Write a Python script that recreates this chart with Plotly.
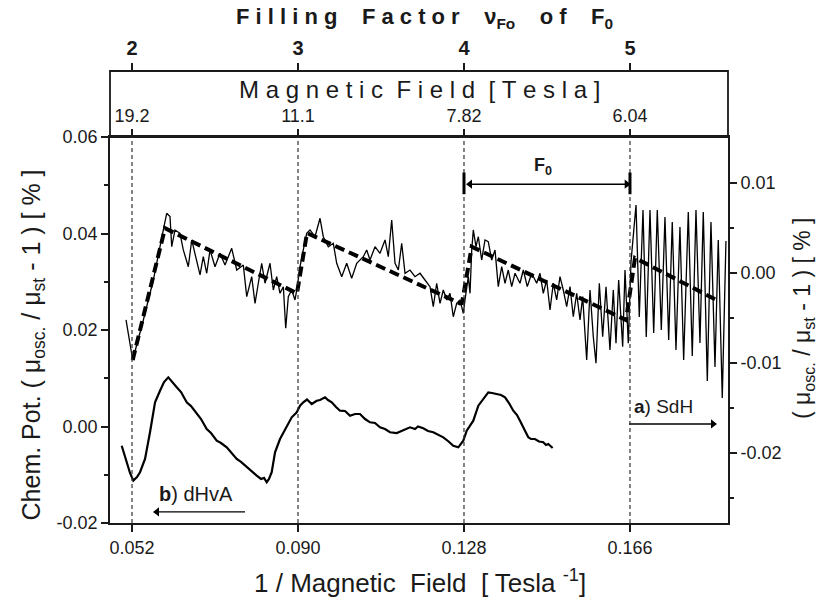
import plotly.graph_objects as go

# ---------------- data ----------------
# a) SdH trace (right axis)
sdh_x = [0.05063, 0.05216, 0.05459, 0.05688, 0.05917, 0.05994, 0.06070, 0.06109, 0.06184, 0.06299,
         0.06374, 0.06489, 0.06567, 0.06681, 0.06757, 0.06832, 0.06910, 0.06986, 0.07100, 0.07214,
         0.07329, 0.07482, 0.07597, 0.07748, 0.07826, 0.07940, 0.08016, 0.08091, 0.08169, 0.08245,
         0.08359, 0.08435, 0.08512, 0.08588, 0.08664, 0.08719, 0.08778, 0.08856, 0.08931, 0.08984,
         0.09046, 0.09121, 0.09199, 0.09275, 0.09389, 0.09504, 0.09579, 0.09694, 0.09808, 0.09886,
         0.10001, 0.10115, 0.10229, 0.10344, 0.10495, 0.10573, 0.10648, 0.10763, 0.10877, 0.10992,
         0.11067, 0.11145, 0.11221, 0.11297, 0.11374, 0.11450, 0.11564, 0.11678, 0.11793, 0.11907,
         0.12022, 0.12097, 0.12175, 0.12251, 0.12326, 0.12404, 0.12480, 0.12555, 0.12633, 0.12709,
         0.12784, 0.12823, 0.12899, 0.12938, 0.12977, 0.13013, 0.13075, 0.13128, 0.13205, 0.13281,
         0.13356, 0.13434, 0.13510, 0.13585, 0.13663, 0.13739, 0.13814, 0.13892, 0.13968, 0.14082,
         0.14158, 0.14249, 0.14350, 0.14464, 0.14540, 0.14615, 0.14693, 0.14769, 0.14844, 0.14922,
         0.14998, 0.15073, 0.15151, 0.15227, 0.15302, 0.15380, 0.15456, 0.15517, 0.15609, 0.15685,
         0.15760, 0.15822, 0.15898, 0.15975, 0.16051, 0.16142, 0.16218, 0.16280, 0.16341, 0.16433,
         0.16486, 0.16561, 0.16623, 0.16738, 0.16813, 0.16898, 0.16973, 0.17058, 0.17143, 0.17225,
         0.17317, 0.17401, 0.17486, 0.17568, 0.17653, 0.17744, 0.17829, 0.17935, 0.18026, 0.18111,
         0.18202, 0.18278, 0.18370, 0.18454, 0.18546, 0.18621, 0.18713, 0.18797]
sdh_y = [-0.00522, -0.00967, -0.00522, -0.00078, 0.00478, 0.00663, 0.00626, 0.00292, 0.00478, 0.00441,
         0.00256, 0.00070, 0.00367, 0.00144, -0.00022, 0.00181, -0.00003, 0.00256, 0.00070, 0.00219,
         0.00089, 0.00274, 0.00033, 0.00089, -0.00263, -0.00041, -0.00337, -0.00114, 0.00108, -0.00114,
         0.00108, -0.00189, -0.00041, -0.00226, -0.00152, -0.00614, -0.00263, -0.00189, -0.00300, -0.00152,
         0.00070, 0.00256, 0.00441, 0.00478, 0.00403, 0.00608, 0.00403, 0.00292, 0.00330, 0.00108,
         -0.00041, 0.00108, -0.00059, 0.00108, 0.00181, 0.00256, 0.00144, 0.00292, 0.00219, 0.00367,
         0.00181, 0.00589, 0.00108, 0.00033, 0.00330, -0.00003, 0.00033, -0.00041, -0.00003, -0.00078,
         -0.00152, -0.00374, -0.00114, -0.00337, -0.00189, -0.00300, -0.00226, -0.00486, -0.00337, -0.00300,
         -0.00448, -0.00300, -0.00041, -0.00226, 0.00256, 0.00478, 0.00292, 0.00403, 0.00144, 0.00367,
         0.00348, 0.00144, 0.00256, -0.00152, 0.00070, -0.00114, 0.00033, -0.00152, -0.00003, -0.00114,
         0.00033, -0.00152, -0.00003, -0.00114, -0.00003, -0.00226, -0.00078, -0.00411, -0.00114, -0.00300,
         -0.00041, -0.00189, -0.00374, -0.00152, -0.00486, -0.00226, -0.00522, -0.00263, -0.00967, -0.00189,
         -0.00708, -0.01003, -0.00114, -0.00708, -0.00152, -0.00856, -0.00189, -0.00781, -0.00078, -0.00819,
         0.00033, -0.00781, 0.00122, 0.00756, -0.00489, 0.00700, -0.00711, 0.00700, -0.00667, 0.00700,
         -0.00633, 0.00622, -0.00744, 0.00567, -0.00856, 0.00511, -0.00967, 0.00678, -0.00922, 0.00700,
         -0.00778, 0.00678, -0.01200, 0.00567, -0.01044, 0.00367, -0.01389, 0.00356]

# sawtooth fit (thick dashed, right axis)
fit_x = [0.05216, 0.05955, 0.08977, 0.09206, 0.12709, 0.12755, 0.12977, 0.16509, 0.16715, 0.18581]
fit_y = [-0.00967, 0.00497, -0.00226, 0.00444, -0.00337, -0.00333, 0.00292, -0.00522, 0.00167, -0.00300]

# b) dHvA trace (left axis)
dhva_x = [0.04964, 0.05079, 0.05154, 0.05230, 0.05314, 0.05383, 0.05498, 0.05612, 0.05727, 0.05841,
          0.05933, 0.06031, 0.06116, 0.06223, 0.06322, 0.06452, 0.06551, 0.06681, 0.06780, 0.06910,
          0.07008, 0.07139, 0.07237, 0.07368, 0.07466, 0.07597, 0.07695, 0.07826, 0.07924, 0.08055,
          0.08153, 0.08222, 0.08284, 0.08336, 0.08398, 0.08474, 0.08588, 0.08703, 0.08856, 0.08971,
          0.09046, 0.09121, 0.09206, 0.09314, 0.09428, 0.09504, 0.09619, 0.09687, 0.09772, 0.09870,
          0.09962, 0.10077, 0.10191, 0.10306, 0.10419, 0.10535, 0.10648, 0.10763, 0.10877, 0.10992,
          0.11106, 0.11260, 0.11404, 0.11564, 0.11678, 0.11747, 0.11868, 0.11976, 0.12097, 0.12205,
          0.12326, 0.12434, 0.12555, 0.12670, 0.12731, 0.12784, 0.12862, 0.12938, 0.13013, 0.13128,
          0.13242, 0.13356, 0.13441, 0.13549, 0.13647, 0.13739, 0.13830, 0.13929, 0.14014, 0.14082,
          0.14174, 0.14272, 0.14334, 0.14425, 0.14517, 0.14615, 0.14677, 0.14730, 0.14830]
dhva_y = [-0.00398, -0.00741, -0.00963, -0.01122, -0.01046, -0.00948, -0.00673, -0.00120, 0.00501, 0.00741,
          0.00921, 0.01019, 0.00921, 0.00812, 0.00714, 0.00501, 0.00424, 0.00259, 0.00155, -0.00052,
          -0.00135, -0.00294, -0.00342, -0.00431, -0.00528, -0.00673, -0.00735, -0.00845, -0.00921, -0.01019,
          -0.01087, -0.01066, -0.01155, -0.01087, -0.00948, -0.00534, -0.00259, -0.00052, 0.00190, 0.00294,
          0.00431, 0.00501, 0.00559, 0.00466, 0.00534, 0.00549, 0.00605, 0.00549, 0.00501, 0.00404,
          0.00327, 0.00321, 0.00224, 0.00259, 0.00259, 0.00155, 0.00087, 0.00072, -0.00017, -0.00052,
          -0.00120, -0.00135, -0.00072, -0.00017, -0.00052, 0.00000, -0.00037, -0.00093, -0.00120, -0.00166,
          -0.00224, -0.00300, -0.00398, -0.00431, -0.00362, -0.00294, -0.00087, 0.00017, 0.00120, 0.00431,
          0.00569, 0.00708, 0.00694, 0.00673, 0.00652, 0.00605, 0.00487, 0.00327, 0.00238, 0.00120,
          -0.00052, -0.00224, -0.00259, -0.00259, -0.00311, -0.00327, -0.00383, -0.00362, -0.00445]

# ticks
x_ticks = [0.052, 0.090, 0.128, 0.166]
x_labels = ["0.052", "0.090", "0.128", "0.166"]
b_labels = ["19.2", "11.1", "7.82", "6.04"]
nu_labels = ["2", "3", "4", "5"]
y_ticks = [-0.02, 0.00, 0.02, 0.04, 0.06]
y_labels = ["-0.02", "0.00", "0.02", "0.04", "0.06"]
y_minor = [-0.01, 0.01, 0.03, 0.05]
y2_ticks = [-0.02, -0.01, 0.00, 0.01]
y2_labels = ["-0.02", "-0.01", "0.00", "0.01"]
y2_minor = [-0.025, -0.015, -0.005, 0.005]

# annotation arrows: (head x, tail x, y) in left-axis data units
f0_arrows = [(0.12938, 0.14723, 0.05021), (0.16525, 0.14723, 0.05021)]
dhva_arrow = (0.05772, 0.07787, -0.01770)
sdh_arrow = (0.18500, 0.16577, 0.00052)
f0_bars = (0.04814, 0.05263)

X_RANGE = [0.04696, 0.18844]
Y_RANGE = [-0.02, 0.06]
Y2_RANGE = [-0.02778, 0.01511]
DOM_TOP = 386 / 452

FONT = "Liberation Sans, Arial, sans-serif"
INK = "#1a1a1a"
NB = "\u00a0"


def spaced(text, gap=1, wordgap=3):
    words = text.split(" ")
    return (NB * wordgap).join((NB * gap).join(w) for w in words)


fig = go.Figure()
fig.add_trace(go.Scatter(x=dhva_x, y=dhva_y, mode="lines", xaxis="x", yaxis="y",
                         line=dict(color="black", width=2.2), hoverinfo="skip"))
fig.add_trace(go.Scatter(x=sdh_x, y=sdh_y, mode="lines", xaxis="x", yaxis="y2",
                         line=dict(color="black", width=1.3), hoverinfo="skip"))
fig.add_trace(go.Scatter(x=fit_x, y=fit_y, mode="lines", xaxis="x", yaxis="y2",
                         line=dict(color="black", width=4, dash="10px,5px"), hoverinfo="skip"))
fig.add_trace(go.Scatter(x=[None], y=[None], xaxis="x2", yaxis="y", hoverinfo="skip"))
fig.add_trace(go.Scatter(x=[None], y=[None], xaxis="x3", yaxis="y", hoverinfo="skip"))

# arrows drawn as line + triangle head
for head, tail, yv in f0_arrows + [dhva_arrow, sdh_arrow]:
    sym = "triangle-left" if head < tail else "triangle-right"
    fig.add_trace(go.Scatter(x=[tail, head], y=[yv, yv], mode="lines", xaxis="x", yaxis="y",
                             line=dict(color="black", width=1.4), hoverinfo="skip"))
    fig.add_trace(go.Scatter(x=[head], y=[yv], mode="markers", xaxis="x", yaxis="y",
                             marker=dict(symbol=sym, size=8, color="black"), hoverinfo="skip"))

axis_common = dict(showgrid=False, zeroline=False, linecolor=INK, tickcolor=INK,
                   tickwidth=1.5, tickfont=dict(family=FONT, size=18, color=INK))

fig.update_layout(
    width=822, height=602,
    margin=dict(l=110, r=94, t=71, b=79),
    paper_bgcolor="white", plot_bgcolor="white",
    showlegend=False,
    xaxis=dict(range=X_RANGE, tickmode="array", tickvals=x_ticks, ticktext=x_labels,
               ticks="outside", ticklen=7, showline=True, linewidth=1.8, anchor="y",
               **axis_common),
    xaxis2=dict(range=X_RANGE, overlaying="x", side="top", anchor="y",
                tickmode="array", tickvals=x_ticks, ticktext=b_labels,
                ticks="outside", ticklen=6, showline=True, linewidth=1.8, **axis_common),
    xaxis3=dict(range=X_RANGE, overlaying="x", side="top", anchor="free", position=1,
                tickmode="array", tickvals=x_ticks, ticktext=nu_labels,
                ticks="outside", ticklen=8, showline=False, showgrid=False, zeroline=False,
                tickcolor=INK, tickwidth=1.5,
                tickfont=dict(family=FONT, size=20, color=INK, weight="bold")),
    yaxis=dict(domain=[0, DOM_TOP], range=Y_RANGE, tickmode="array", tickvals=y_ticks,
               ticktext=y_labels, ticks="outside", ticklen=7, showline=True, linewidth=1.8,
               minor=dict(tickmode="array", tickvals=y_minor, ticks="outside", ticklen=4,
                          tickcolor=INK, tickwidth=1.5),
               **axis_common),
    yaxis2=dict(range=Y2_RANGE, overlaying="y", side="right", anchor="x",
                tickmode="array", tickvals=y2_ticks, ticktext=y2_labels,
                ticks="outside", ticklen=7, showline=True, linewidth=1.8,
                minor=dict(tickmode="array", tickvals=y2_minor, ticks="outside", ticklen=4,
                           tickcolor=INK, tickwidth=1.5),
                **axis_common),
)

shapes = [dict(type="rect", xref="paper", yref="paper", x0=0, x1=1, y0=DOM_TOP, y1=1,
               line=dict(color=INK, width=1.8))]
for xv in x_ticks:
    shapes.append(dict(type="line", xref="x", yref="paper", x0=xv, x1=xv, y0=0, y1=DOM_TOP,
                       line=dict(color="#333333", width=1.2, dash="4px,3px")))
for xv in x_ticks[2:]:
    shapes.append(dict(type="line", xref="x", yref="y", x0=xv, x1=xv, y0=f0_bars[0], y1=f0_bars[1],
                       line=dict(color="black", width=3)))
fig.update_layout(shapes=shapes)

ann = [
    dict(x=0.14600, y=0.05393, xref="x", yref="y", text="<b>F<sub>0</sub></b>", showarrow=False,
         xanchor="center", yanchor="middle", font=dict(family=FONT, size=18, color=INK)),
    dict(x=0.05772, y=-0.01398, xref="x", yref="y", xanchor="left", yanchor="middle",
         text="<b>b</b>) dHvA", showarrow=False, font=dict(family=FONT, size=20, color=INK)),
    dict(x=0.16646, y=0.00424, xref="x", yref="y", xanchor="left", yanchor="middle",
         text="<b>a</b>) SdH", showarrow=False, font=dict(family=FONT, size=19, color=INK)),
    dict(x=0.5097, y=1.1173, xref="paper", yref="paper", showarrow=False,
         xanchor="center", yanchor="middle",
         text="<b>" + spaced("Filling Factor", wordgap=4) + NB * 4 + "ν<sub>Fo</sub>" + NB * 4
              + spaced("of") + NB * 4 + "F<sub>0</sub></b>",
         font=dict(family=FONT, size=22, color=INK)),
    dict(x=0.5016, y=0.958, xref="paper", yref="paper", showarrow=False,
         xanchor="center", yanchor="middle",
         text=spaced("Magnetic Field [Tesla]", wordgap=2), font=dict(family=FONT, size=24, color=INK)),
    dict(x=0.5016, y=-0.1305, xref="paper", yref="paper", showarrow=False,
         xanchor="center", yanchor="middle",
         text="1 / Magnetic  Field" + NB * 2 + "[ Tesla <sup>-1</sup>]",
         font=dict(family=FONT, size=26, color=INK)),
    dict(x=-0.1246, y=0.395, xref="paper", yref="paper", showarrow=False, textangle=-90,
         xanchor="center", yanchor="middle",
         text="Chem. Pot. ( μ<sub>osc.</sub> / μ<sub>st</sub> - 1 ) [ % ]",
         font=dict(family=FONT, size=25, color=INK)),
    dict(x=1.1214, y=0.4535, xref="paper", yref="paper", showarrow=False, textangle=-90,
         xanchor="center", yanchor="middle",
         text="( μ<sub>osc.</sub> / μ<sub>st</sub> - 1 ) [ % ]",
         font=dict(family=FONT, size=23, color=INK)),
]
fig.update_layout(annotations=ann)

fig.write_html("out.html")
